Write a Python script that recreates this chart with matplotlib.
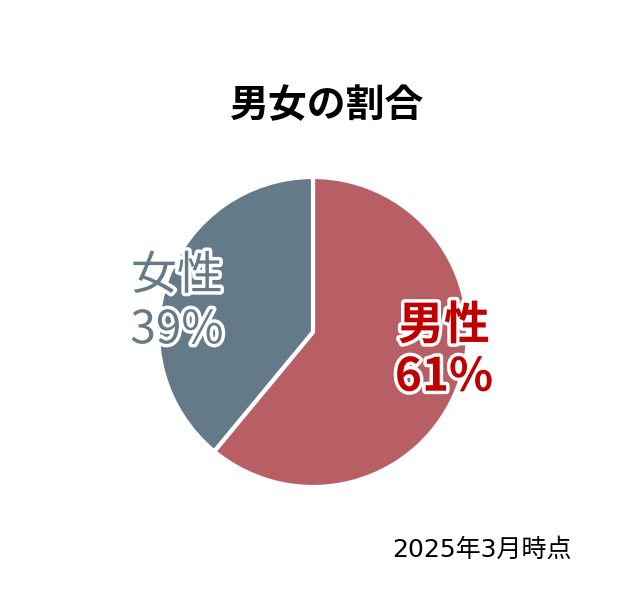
import matplotlib
matplotlib.use("Agg")
import matplotlib.pyplot as plt
import matplotlib.patheffects as pe

plt.rcParams["font.family"] = ["Noto Sans CJK JP", "DejaVu Sans"]

# data
labels = ["男性", "女性"]
shares = [61, 39]
colors = ["#b85f65", "#657a88"]
label_colors = ["#c00000", "#657a88"]
label_weights = ["bold", "normal"]
label_pos = [(444, 352), (177, 303)]  # pixel coords from top-left
title = "男女の割合"
note = "2025年3月時点"

W, H = 626, 600
fig = plt.figure(figsize=(W / 100, H / 100), dpi=100)
ax = fig.add_axes([0, 0, 1, 1])

wedges, _ = ax.pie(shares, colors=colors, startangle=90, counterclock=False,
                   center=(313, H - 332), radius=155,
                   wedgeprops=dict(edgecolor="white", linewidth=3))
ax.set_xlim(0, W)
ax.set_ylim(0, H)
ax.set_aspect("equal")
ax.axis("off")

for lab, val, c, wt, (x, y) in zip(labels, shares, label_colors, label_weights, label_pos):
    ax.text(x, H - y, f"{lab}\n{val}%", ha="center", va="center", fontsize=33,
            color=c, fontweight=wt, linespacing=1.15,
            path_effects=[pe.withStroke(linewidth=5, foreground="white")])

ax.text(327, H - 106, title, ha="center", va="center", fontsize=28, fontweight="bold", color="black")
ax.text(572, H - 550, note, ha="right", va="center", fontsize=18, color="black",
        family=["DejaVu Sans", "Noto Sans CJK JP"])

fig.savefig("out.png", dpi=100)
